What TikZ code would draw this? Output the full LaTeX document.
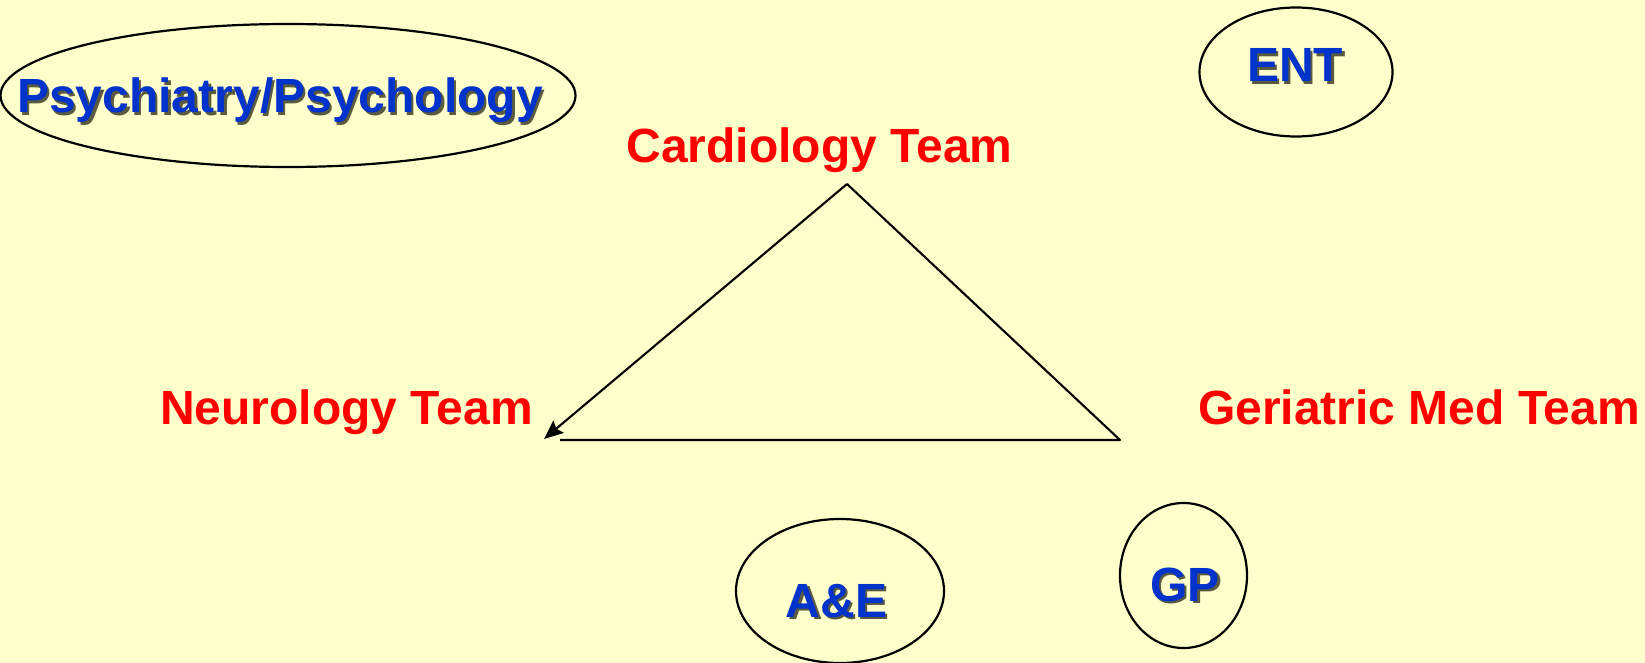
\documentclass[tikz,border=0pt]{standalone}
\usepackage{fontspec}
\setmainfont{Liberation Sans}
\usetikzlibrary{arrows.meta,shapes.geometric}
\definecolor{paper}{HTML}{FFFFCC}
\definecolor{teamred}{HTML}{FF0000}
\definecolor{unitblue}{HTML}{0033CC}
\definecolor{shade}{HTML}{5A5A40}
% blue labels carry a dark drop shadow
\newcommand{\shadowed}[1]{\makebox[0pt][l]{\kern2.5pt\raisebox{-2.5pt}{\textcolor{shade}{#1}}}#1}
\begin{document}
\begin{tikzpicture}[x=1pt,y=-1pt,
        team/.style={text=teamred,font=\fontsize{48}{58}\selectfont\bfseries,inner sep=0pt,anchor=base},
        unit/.style={text=unitblue,font=\fontsize{48}{58}\selectfont\bfseries,inner sep=0pt,anchor=base},
        ring/.style={draw,ellipse,line width=2.2pt,inner sep=0pt},
        link/.style={line width=2.1pt}]
    \fill[paper] (0,0) rectangle (1645,663);
    \useasboundingbox (0,0) rectangle (1645,663);
    % ellipses around the other services
    \foreach \name/\cx/\cy/\w/\h in {psych/288/95.5/575/143, ent/1296/72/193/129, ae/840/591/208/144, gp/1183.5/575.5/127/145} {
            \node[ring,minimum width=\w pt,minimum height=\h pt] (\name ring) at (\cx,\cy) {};
        }
    \node[unit] (psych) at (280,113) {\shadowed{Psychiatry/Psychology}};
    \node[unit] (ent) at (1295,82) {\shadowed{ENT}};
    \node[unit] (ae) at (836.5,617) {\shadowed{A\&E}};
    \node[unit] (gp) at (1185,601) {\shadowed{GP}};

    % the three teams
    \node[team] (cardio) at (819.5,163) {Cardiology Team};
    \node[team] (neuro) at (346.5,424) {Neurology Team};
    \node[team] (geri) at (1419,424) {Geriatric Med Team};

    \coordinate (apex) at (847,184);
    \coordinate (ntip) at (544,439);
    \coordinate (gcorner) at (1120,440);
    \coordinate (nend) at (560,440);
    \draw[link,-{Stealth[length=19pt,width=16pt,inset=3pt]}] (apex) -- (ntip);
    \draw[link,line join=round] (apex) -- (gcorner) -- (nend);
\end{tikzpicture}
\end{document}
